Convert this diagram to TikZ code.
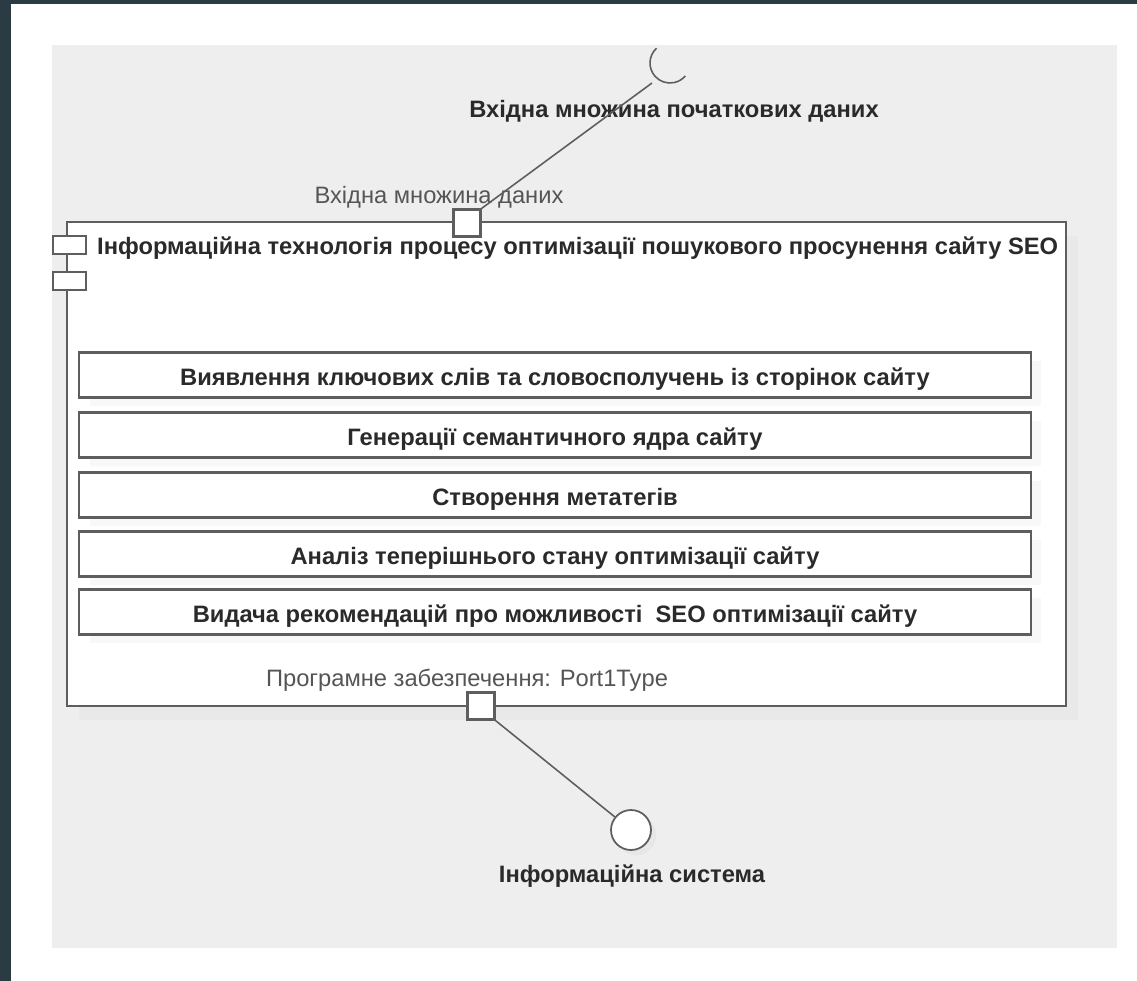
\documentclass[tikz,border=0pt]{standalone}
\usepackage{fontspec}
\setmainfont{Liberation Sans}
\usetikzlibrary{positioning,shadows}
\definecolor{frame}{HTML}{2B3B43}
\definecolor{panel}{HTML}{EEEEEE}
\definecolor{edge}{HTML}{5E5E5E}
\definecolor{ink}{HTML}{2A2A2A}
\definecolor{note}{HTML}{555555}

\begin{document}
\begin{tikzpicture}[x=0.02cm,y=-0.02cm,
    box/.style={draw=edge,line width=1.2pt,fill=white},
    part/.style={box,minimum width=19.04cm,minimum height=0.9cm,inner sep=0pt,
        font=\fontsize{13.5}{16}\selectfont\bfseries,text=ink,
        text height=12.5pt,text depth=0pt,
        drop shadow={shadow xshift=6pt,shadow yshift=-5pt,opacity=0.05}},
    port/.style={box,minimum size=0.54cm,inner sep=0pt},
    wire/.style={draw=edge,line width=0.9pt},
    bold/.style={font=\fontsize{13.5}{16}\selectfont\bfseries,text=ink},
    lbl/.style={font=\fontsize{13.5}{16}\selectfont,text=note}]

    % page
    \fill[white] (0,0) rectangle (1137,981);
    \fill[frame] (0,0) rectangle (11,981);
    \fill[frame] (0,0) rectangle (1137,4);
    \fill[panel] (52,45) rectangle (1117,948);

    % component
    \node[box,minimum width=19.98cm,minimum height=9.68cm,
        drop shadow={shadow xshift=7pt,shadow yshift=-8pt,opacity=0.04}] (comp) at (566.5,464) {};
    \node[box,minimum width=0.66cm,minimum height=0.36cm] (icon1) at (69.5,245) {};
    \node[box,minimum width=0.66cm,minimum height=0.36cm] (icon2) at (69.5,281) {};
    \node[bold,anchor=west] (title) at (91,248) {Інформаційна технологія процесу оптимізації пошукового просунення сайту SEO};

    \node[part] (find) at (555,375) {Виявлення ключових слів та словосполучень із сторінок сайту};
    \node[part] (core) at (555,435) {Генерації семантичного ядра сайту};
    \node[part] (meta) at (555,495) {Створення метатегів};
    \node[part] (state) at (555,554) {Аналіз теперішнього стану оптимізації сайту};
    \node[part] (advice) at (555,612) {Видача рекомендацій про можливості\ \ SEO оптимізації сайту};

    % ports
    \node[port] (pin) at (467,223) {};
    \node[port] (pout) at (481,706) {};
    \node[lbl] (pinlbl) at (439,197) {Вхідна множина даних};
    \node[lbl] (poutlbl) at (467,680) {Програмне забезпечення: Port1Type};

    % required interface
    \node[bold] (inlbl) at (674,111) {Вхідна множина початкових даних};
    \coordinate (req) at (670,63);
    \coordinate (sock) at (652,83);
    \draw[wire] ([shift={(228:20)}]req) arc[start angle=228,end angle=40,radius=20];
    \draw[wire] (pin.north east) -- (sock);

    % provided interface
    \node[box,circle,minimum size=0.8cm,line width=1pt,
        drop shadow={shadow xshift=3pt,shadow yshift=-3pt,opacity=0.06}] (prov) at (631,830) {};
    \node[bold] (provlbl) at (632,876) {Інформаційна система};
    \draw[wire] (pout.south east) -- (prov);

\end{tikzpicture}
\end{document}
